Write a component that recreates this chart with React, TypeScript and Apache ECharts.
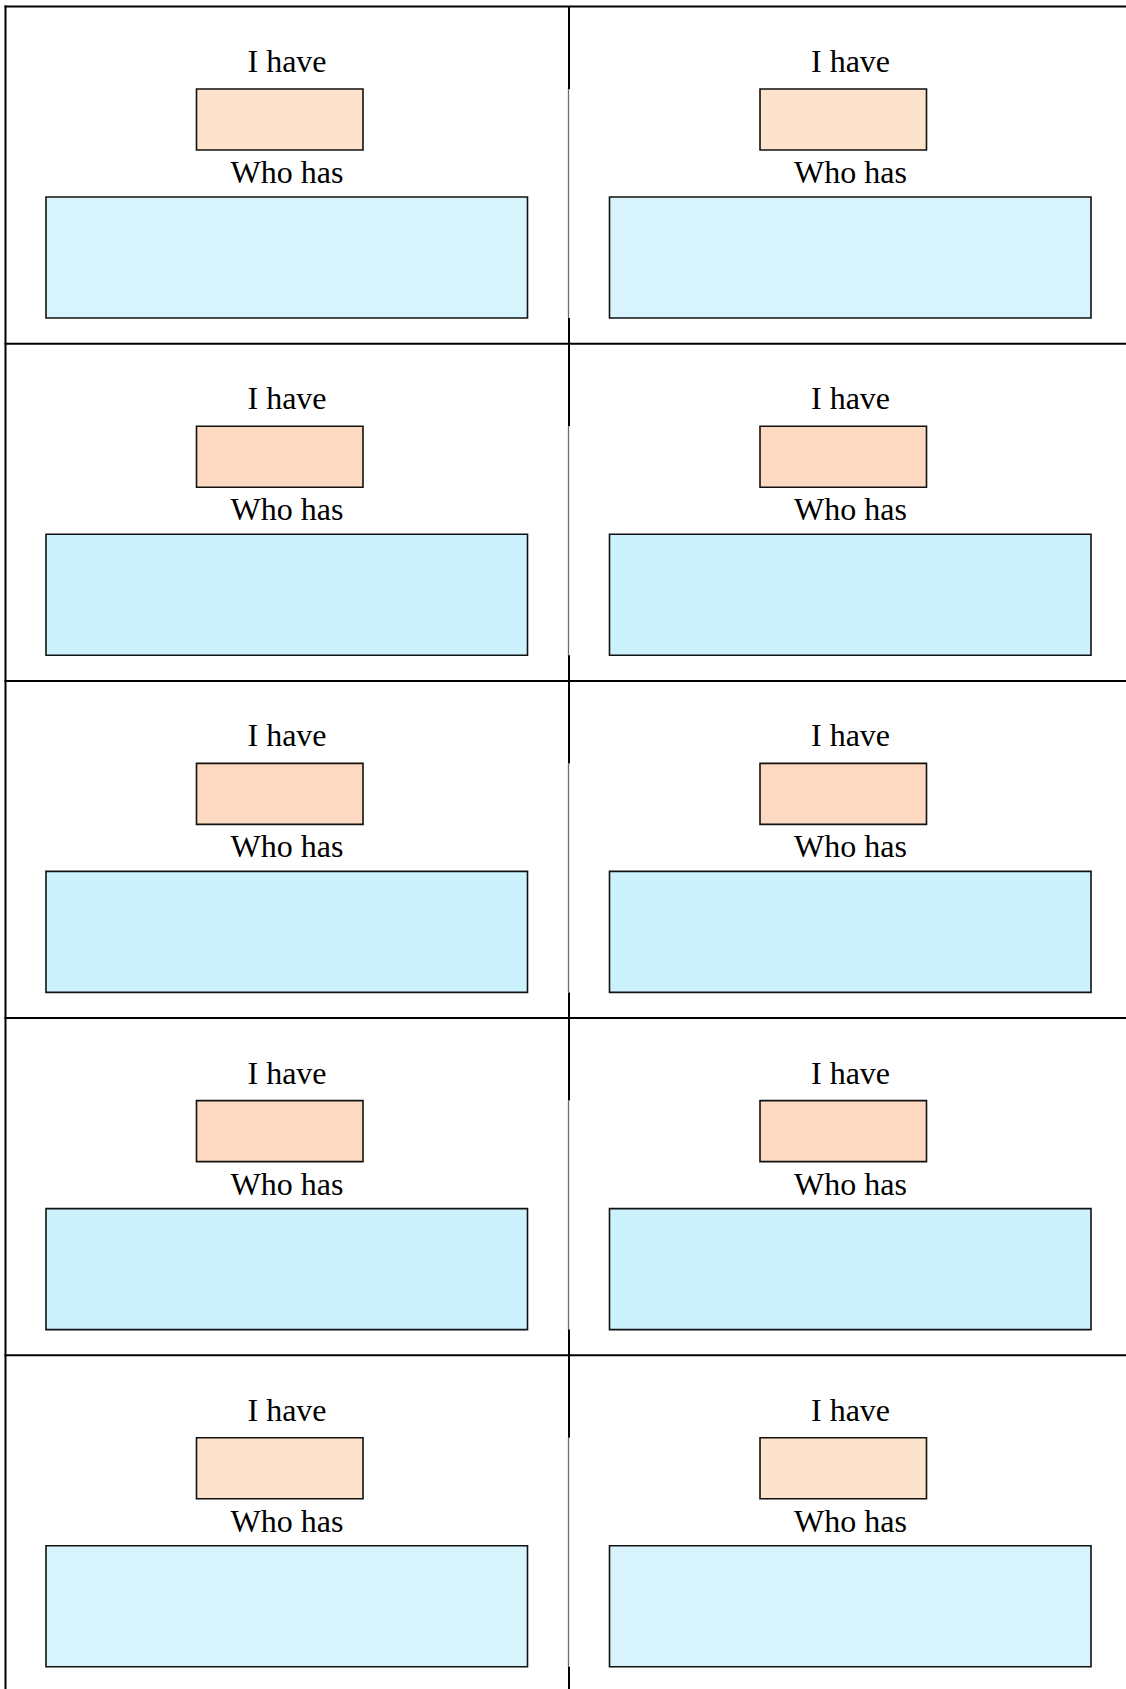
import React, { useEffect, useRef } from "react";
import * as echarts from "echarts";

// ---- data ----
const rowIndex = [0, 1, 2, 3, 4];
const columnIndex = [0, 1];
const topLabel = "I have";
const bottomLabel = "Who has";
const answerFill = ["#FDE2CC", "#FCD9C0", "#FCD9C0", "#FCD9C0", "#FDE2CC"];
const questionFill = ["#D7F4FC", "#CCF2FD", "#CCF2FD", "#CCF2FD", "#D7F4FC"];

// ---- layout ----
const W = 1126;
const H = 1689;
const tableLeft = 5.5;
const tableTop = 6.5;
const rowH = 337.2;
const colLeft = [5.5, 569];

export default function App() {
  const ref = useRef<HTMLDivElement>(null);
  useEffect(() => {
    document.body.style.margin = "0";
    const chart = echarts.init(ref.current!, null, { renderer: "svg" });
    const els: any[] = [];
    const font = '32px "Liberation Serif", "Times New Roman", serif';

    rowIndex.forEach((r) => {
      const ct = tableTop + r * rowH;
      columnIndex.forEach((c) => {
        const cl = colLeft[c];
        els.push({
          type: "text",
          style: { text: topLabel, x: cl + 281.5, y: ct + 54.5, fill: "#000", font, align: "center", verticalAlign: "middle" },
        });
        els.push({
          type: "rect",
          shape: { x: cl + 191, y: ct + 82.5, width: 166.5, height: 61 },
          style: { fill: answerFill[r], stroke: "#111", lineWidth: 1.6 },
        });
        els.push({
          type: "text",
          style: { text: bottomLabel, x: cl + 281.5, y: ct + 165.5, fill: "#000", font, align: "center", verticalAlign: "middle" },
        });
        els.push({
          type: "rect",
          shape: { x: cl + 40.5, y: ct + 190.5, width: 481.5, height: 121 },
          style: { fill: questionFill[r], stroke: "#111", lineWidth: 1.6 },
        });
      });
      // middle divider: black near row edges, thin gray alongside the boxes
      const mx = colLeft[1];
      els.push({ type: "line", shape: { x1: mx, y1: ct, x2: mx, y2: ct + 82.5 }, style: { stroke: "#000", lineWidth: 2 } });
      els.push({ type: "line", shape: { x1: mx - 0.5, y1: ct + 82.5, x2: mx - 0.5, y2: ct + 311.5 }, style: { stroke: "#6e6e6e", lineWidth: 1.3 } });
      els.push({ type: "line", shape: { x1: mx, y1: ct + 311.5, x2: mx, y2: ct + rowH }, style: { stroke: "#000", lineWidth: 2 } });
      // horizontal row line
      els.push({ type: "line", shape: { x1: tableLeft - 1, y1: ct, x2: W, y2: ct }, style: { stroke: "#000", lineWidth: 2 } });
    });
    // left border
    els.push({ type: "line", shape: { x1: tableLeft, y1: tableTop - 1, x2: tableLeft, y2: H }, style: { stroke: "#000", lineWidth: 2 } });

    chart.setOption({
      animation: false,
      backgroundColor: "#ffffff",
      graphic: { elements: els },
    });
    return () => chart.dispose();
  }, []);
  return <div ref={ref} style={{ width: W, height: H }} />;
}
